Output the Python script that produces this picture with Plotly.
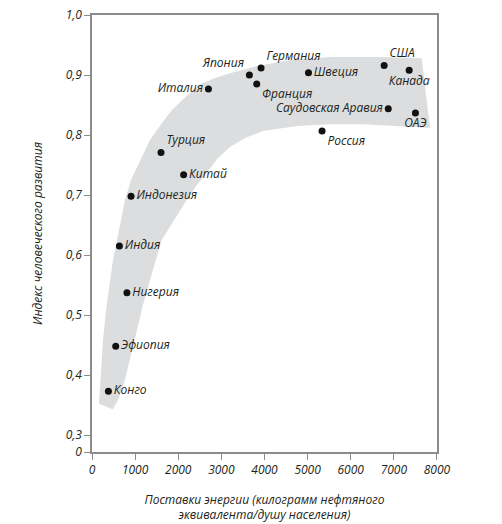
import plotly.graph_objects as go

# energy supply (kg oil equivalent per capita) vs human development index
countries = ['Конго', 'Эфиопия', 'Нигерия', 'Индия', 'Индонезия', 'Турция', 'Китай',
             'Италия', 'Япония', 'Германия', 'Франция', 'Швеция', 'США', 'Канада',
             'Саудовская Аравия', 'ОАЭ', 'Россия']
energy = [380, 550, 810, 635, 905, 1600, 2125, 2700, 3650, 3920, 3820, 5020, 6775, 7355,
          6870, 7500, 5335]
hdi = [0.373, 0.448, 0.537, 0.615, 0.698, 0.771, 0.734, 0.877, 0.900, 0.912, 0.885, 0.904,
       0.916, 0.908, 0.844, 0.837, 0.807]

# grey trend band outline (outer edge, then inner edge back)
band_x = [162, 209, 255, 325, 417, 487, 580, 672, 765, 904, 1113, 1345, 1623, 1855, 2087,
          2319, 2574, 2852, 3200, 3826, 4591, 5519, 6678, 7645,
          7838, 7142, 6284, 5519, 4754, 3965, 3548, 3200, 2922, 2660, 2412, 2196, 1901, 1616,
          1345, 1183, 1043, 904, 765, 603, 480]
band_y = [0.352, 0.408, 0.458, 0.508, 0.558, 0.592, 0.625, 0.658, 0.692, 0.725, 0.758, 0.792,
          0.820, 0.842, 0.858, 0.873, 0.887, 0.895, 0.903, 0.915, 0.925, 0.930, 0.930, 0.928,
          0.812, 0.815, 0.818, 0.818, 0.815, 0.807, 0.795, 0.780, 0.762, 0.737, 0.715, 0.692,
          0.658, 0.625, 0.558, 0.517, 0.475, 0.433, 0.392, 0.358, 0.343]

x_ticks = [0, 1000, 2000, 3000, 4000, 5000, 6000, 7000, 8000]
y_ticks = [0.3, 0.4, 0.5, 0.6, 0.7, 0.8, 0.9, 1.0]
y_tick_text = ['0,3', '0,4', '0,5', '0,6', '0,7', '0,8', '0,9', '1,0']

# where each label sits relative to its point
label_pos = {
    'Конго': 'middle right', 'Эфиопия': 'middle right', 'Нигерия': 'middle right',
    'Индия': 'middle right', 'Индонезия': 'middle right', 'Турция': 'top right',
    'Китай': 'middle right', 'Италия': 'middle left', 'Япония': 'top left',
    'Германия': 'top right', 'Франция': 'bottom right', 'Швеция': 'middle right',
    'США': 'top right', 'Канада': 'bottom center', 'Саудовская Аравия': 'middle left',
    'ОАЭ': 'bottom center', 'Россия': 'bottom right',
}

FONT = 'Open Sans'
TEXT_COLOR = '#231f20'
AXIS_COLOR = '#8c8c8c'
Y_BREAK = 0.2717  # bottom of the broken y axis, labelled "0"

fig = go.Figure()

fig.add_trace(go.Scatter(x=band_x, y=band_y, fill='toself', fillcolor='#dcddde',
                         line=dict(width=0), mode='lines', hoverinfo='skip'))

fig.add_trace(go.Scatter(x=energy, y=hdi, mode='markers+text', text=countries,
                         textposition=[label_pos[c] for c in countries],
                         textfont=dict(family=FONT, size=12, color=TEXT_COLOR, style='italic'),
                         marker=dict(size=7, color='#111111')))

# page body adds an 8px offset, so the figure is a bit smaller than the window
fig.update_layout(
    width=494, height=516,
    margin=dict(l=84, r=65, t=7, b=72),
    plot_bgcolor='white', paper_bgcolor='white',
    showlegend=False,
    font=dict(family=FONT, size=12, color=TEXT_COLOR, style='italic'),
)

fig.update_xaxes(range=[0, 8000.5], tickvals=x_ticks, ticks='outside', ticklen=6,
                 tickcolor=AXIS_COLOR, showline=True, linecolor=AXIS_COLOR, linewidth=1.5,
                 mirror=True, showgrid=False, zeroline=False, automargin=False,
                 ticklabeloverflow='allow',
                 title=dict(text='Поставки энергии (килограмм нефтяного<br>эквивалента/душу населения)',
                            standoff=18, font=dict(size=12)))

fig.update_yaxes(range=[Y_BREAK, 1.0002], tickvals=[Y_BREAK] + y_ticks, ticktext=['0'] + y_tick_text,
                 ticks='outside', ticklen=6, tickcolor=AXIS_COLOR, showline=True,
                 linecolor=AXIS_COLOR, linewidth=1.5, mirror=True, showgrid=False, zeroline=False,
                 automargin=False, ticklabeloverflow='allow',
                 title=dict(text='Индекс человеческого развития', standoff=20, font=dict(size=12)))

fig.write_html('out.html')
